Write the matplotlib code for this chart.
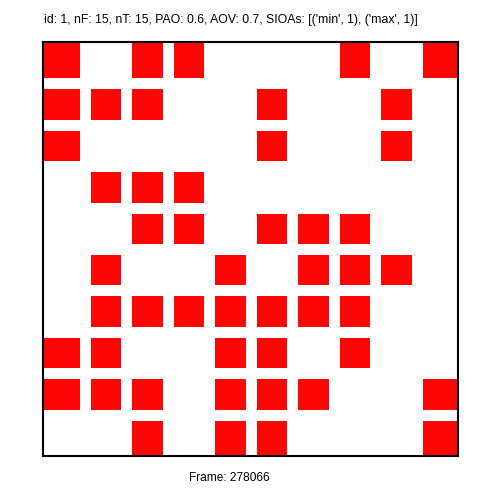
import matplotlib
matplotlib.use("Agg")
import matplotlib.pyplot as plt
import numpy as np
from matplotlib.colors import ListedColormap

TITLE = "id: 1, nF: 15, nT: 15, PAO: 0.6, AOV: 0.7, SIOAs: [('min', 1), ('max', 1)]"
FRAME_LABEL = "Frame: 278066"

# filled cells per row (top to bottom), 1-based column numbers
row_cells = [
    [1, 3, 4, 8, 10],
    [1, 2, 3, 6, 9],
    [1, 6, 9],
    [2, 3, 4],
    [3, 4, 6, 7, 8],
    [2, 5, 7, 8, 9],
    [2, 3, 4, 5, 6, 7, 8],
    [1, 2, 5, 6, 8],
    [1, 2, 3, 5, 6, 7, 10],
    [3, 5, 6, 10],
]
n_cols = 10

grid = np.zeros((len(row_cells), n_cols))
for r, cols in enumerate(row_cells):
    for c in cols:
        grid[r, c - 1] = 1

plt.rcParams["font.family"] = ["Liberation Sans", "DejaVu Sans"]

fig = plt.figure(figsize=(5.02, 5.02), dpi=100)
ax = fig.add_axes([43 / 502, 1 - 457 / 502, 415 / 502, 414 / 502])

cmap = ListedColormap(["white", "#ff0606"])
ax.pcolormesh(np.arange(n_cols + 1), np.arange(len(row_cells) + 1), grid,
              cmap=cmap, vmin=0, vmax=1)
ax.set_xlim(0, n_cols)
ax.set_ylim(len(row_cells), 0)

# white separators between cells
for k in range(1, n_cols):
    ax.axvline(k, color="white", linewidth=7.9)
for k in range(1, len(row_cells)):
    ax.axhline(k, color="white", linewidth=7.9)

ax.set_xticks([])
ax.set_yticks([])
for s in ax.spines.values():
    s.set_linewidth(1.5)
    s.set_zorder(5)

fig.text(44 / 502, 1 - 20 / 502, TITLE, fontsize=8.8, ha="left", va="center")
fig.text(229.5 / 502, 1 - 478 / 502, FRAME_LABEL, fontsize=8.6, ha="center", va="center")

fig.savefig("out.png", dpi=100)
